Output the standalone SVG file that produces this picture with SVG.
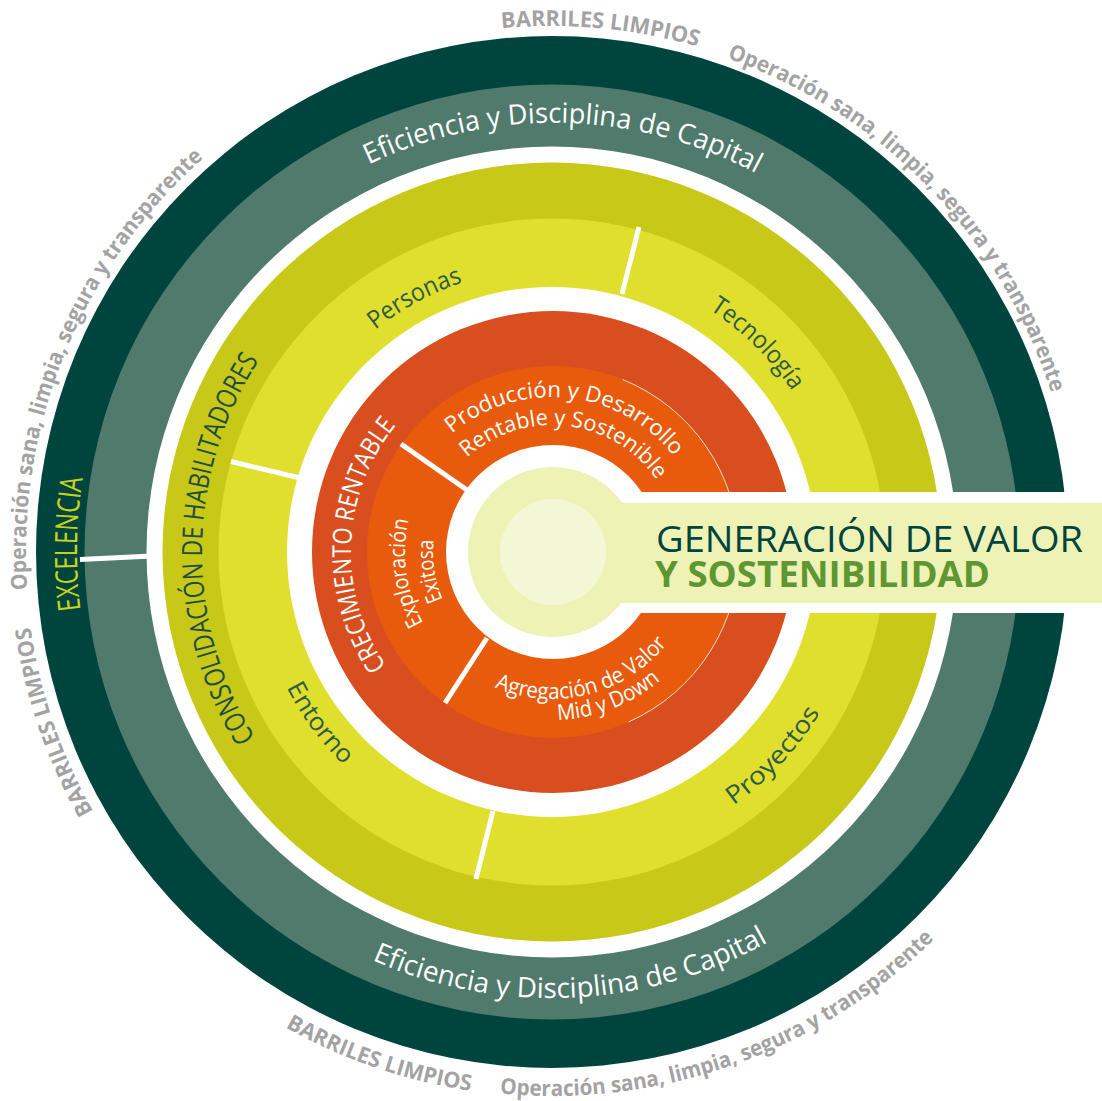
<svg xmlns="http://www.w3.org/2000/svg" xmlns:xlink="http://www.w3.org/1999/xlink" width="1102" height="1101" viewBox="0 0 1102 1101">
<style>
.gray{font-family:"Open Sans","Liberation Sans",sans-serif;font-weight:700;font-size:22px;fill:#a3a3a3}
.eff{font-family:"Open Sans","Liberation Sans",sans-serif;font-size:28px;fill:#ffffff}
.exc{font-family:"Open Sans","Liberation Sans",sans-serif;font-size:31px;fill:#c8d21e}
.hab{font-family:"Open Sans","Liberation Sans",sans-serif;font-size:28px;fill:#1d4d3c}
.ena{font-family:"Open Sans","Liberation Sans",sans-serif;font-size:25px;fill:#2d5a43}
.cre{font-family:"Open Sans","Liberation Sans",sans-serif;font-size:26px;fill:#ffffff}
.core{font-family:"Open Sans","Liberation Sans",sans-serif;font-size:22px;fill:#ffffff}
.div{stroke:#ffffff;stroke-width:5;fill:none}
</style>
<defs>
<path id="t1" d="M501.58,28.42 A526,526 0 0 1 698.75,46.89"/>
<path id="t2" d="M726.92,58.06 A524,524 0 0 1 1051.75,394.43"/>
<path id="t3" d="M27.35,589.61 A526,526 0 0 1 203.46,158.05"/>
<path id="t4" d="M93.32,811.51 A527,527 0 0 1 30.39,627.17"/>
<path id="t5" d="M285.29,1027.28 A545,545 0 0 0 471.44,1091.02"/>
<path id="t6" d="M499.86,1093.5 A544,544 0 0 0 934.65,938.68"/>
<path id="t7" d="M368.6,164.5 A430,430 0 0 1 757.4,174.2"/>
<path id="t8" d="M372.02,960.07 A446,446 0 0 0 769.59,941.32"/>
<path id="t9" d="M80.54,609.89 A475,475 0 0 1 82.72,478.51"/>
<path id="t10" d="M255.18,737.47 A350,350 0 0 1 260.14,358.82"/>
<path id="t11" d="M386.35,665.85 A201,201 0 0 1 396.90,424.15"/>
<path id="t12" d="M451.95,433.61 A155,155 0 0 1 674.64,457.21"/>
<path id="t13" d="M467.02,457.62 A127,127 0 0 1 657.29,480.98"/>
<path id="t14" d="M423.43,623.27 A147,147 0 0 1 408.77,518.93"/>
<path id="t15" d="M442.95,599.64 A119,119 0 0 1 433.65,539.56"/>
<path id="t16" d="M494.56,687.31 A147,147 0 0 0 667.84,642.50"/>
<path id="t17" d="M557.86,719.90 A168,168 0 0 0 661.11,679.75"/>
<path id="t18" d="M375.21,329.74 A284,284 0 0 1 464.24,281.90"/>
<path id="t19" d="M709.40,309.62 A289,289 0 0 1 793.00,392.49"/>
<path id="t20" d="M733.5,805.5 A312,312 0 0 0 822.5,708.5"/>
<path id="t21" d="M286.48,687.29 A298,298 0 0 0 344.99,766.36"/>
</defs>
<rect width="1102" height="1101" fill="#ffffff"/>

<g id="ring-excelencia">
<circle cx="552" cy="552" r="516" fill="#00443e"/>
<text class="exc"><textPath xlink:href="#t9" href="#t9" textLength="132" lengthAdjust="spacingAndGlyphs">EXCELENCIA</textPath></text>
</g>
<g id="ring-eficiencia">
<circle cx="552" cy="552" r="467.5" fill="#4f7a6c"/>
<circle cx="552" cy="552" r="405.5" fill="#ffffff"/>
<text class="eff"><textPath xlink:href="#t7" href="#t7" textLength="402" lengthAdjust="spacingAndGlyphs">Eficiencia y Disciplina de Capital</textPath></text>
<text class="eff"><textPath xlink:href="#t8" href="#t8" textLength="411" lengthAdjust="spacingAndGlyphs">Eficiencia y Disciplina de Capital</textPath></text>
</g>
<g id="ring-habilitadores">
<circle cx="552" cy="552" r="389.5" fill="#c8c819"/>
<text class="hab"><textPath xlink:href="#t10" href="#t10" textLength="398" lengthAdjust="spacingAndGlyphs">CONSOLIDACIÓN DE HABILITADORES</textPath></text>
</g>
<g id="ring-enablers">
<circle cx="552" cy="552" r="333.5" fill="#e0df2e"/>
<circle cx="552" cy="552" r="265" fill="#ffffff"/>
<text class="ena"><textPath xlink:href="#t18" href="#t18" textLength="100" lengthAdjust="spacingAndGlyphs">Personas</textPath></text>
<text class="ena"><textPath xlink:href="#t19" href="#t19" textLength="117" lengthAdjust="spacingAndGlyphs">Tecnología</textPath></text>
<text class="ena"><textPath xlink:href="#t20" href="#t20" textLength="128" lengthAdjust="spacingAndGlyphs">Proyectos</textPath></text>
<text class="ena"><textPath xlink:href="#t21" href="#t21" textLength="97" lengthAdjust="spacingAndGlyphs">Entorno</textPath></text>
</g>
<g id="ring-crecimiento">
<circle cx="553" cy="552" r="241" fill="#d94e1f"/>
<text class="cre"><textPath xlink:href="#t11" href="#t11" textLength="258" lengthAdjust="spacingAndGlyphs">CRECIMIENTO RENTABLE</textPath></text>
</g>
<g id="ring-core">
<circle cx="553" cy="552" r="186" fill="#e95b0c"/>
<path d="M622.68,379.54 A186,186 0 0 1 628.65,721.92" fill="none" stroke="#ffffff" stroke-width="1" stroke-opacity="0.8"/>
<circle cx="553" cy="552" r="107" fill="#ffffff"/>
<text class="core"><textPath xlink:href="#t12" href="#t12" textLength="249" lengthAdjust="spacingAndGlyphs">Producción y Desarrollo</textPath></text>
<text class="core"><textPath xlink:href="#t13" href="#t13" textLength="216" lengthAdjust="spacingAndGlyphs">Rentable y Sostenible</textPath></text>
<text class="core"><textPath xlink:href="#t14" href="#t14" textLength="107" lengthAdjust="spacingAndGlyphs">Exploración</textPath></text>
<text class="core"><textPath xlink:href="#t15" href="#t15" textLength="61" lengthAdjust="spacingAndGlyphs">Exitosa</textPath></text>
<text class="core"><textPath xlink:href="#t16" href="#t16" textLength="191" lengthAdjust="spacingAndGlyphs">Agregación de Valor</textPath></text>
<text class="core"><textPath xlink:href="#t17" href="#t17" textLength="112" lengthAdjust="spacingAndGlyphs">Mid y Down</textPath></text>
</g>
<g id="dividers">
<line class="div" x1="80" y1="559.5" x2="152" y2="556"/>
<line class="div" x1="231" y1="461.5" x2="300" y2="478"/>
<line class="div" x1="639" y1="227" x2="622" y2="294"/>
<line class="div" x1="493" y1="811" x2="476" y2="879"/>
<line class="div" x1="401" y1="444" x2="467" y2="490"/>
<line class="div" x1="487" y1="638" x2="445" y2="703"/>
</g>
<g id="outer-labels">
<text class="gray"><textPath xlink:href="#t1" href="#t1" textLength="198" lengthAdjust="spacingAndGlyphs">BARRILES LIMPIOS</textPath></text>
<text class="gray"><textPath xlink:href="#t2" href="#t2" textLength="483" lengthAdjust="spacingAndGlyphs">Operación sana, limpia, segura y transparente</textPath></text>
<text class="gray"><textPath xlink:href="#t3" href="#t3" textLength="483" lengthAdjust="spacingAndGlyphs">Operación sana, limpia, segura y transparente</textPath></text>
<text class="gray"><textPath xlink:href="#t4" href="#t4" textLength="196" lengthAdjust="spacingAndGlyphs">BARRILES LIMPIOS</textPath></text>
<text class="gray"><textPath xlink:href="#t5" href="#t5" textLength="197" lengthAdjust="spacingAndGlyphs">BARRILES LIMPIOS</textPath></text>
<text class="gray"><textPath xlink:href="#t6" href="#t6" textLength="476" lengthAdjust="spacingAndGlyphs">Operación sana, limpia, segura y transparente</textPath></text>
</g>
<g id="banner">
<rect x="553" y="492" width="549" height="121" fill="#ffffff"/>
<circle cx="553" cy="552" r="85" fill="#eef2b5"/>
<rect x="600" y="503" width="502" height="100" fill="#eef2b5"/>
<circle cx="553" cy="552" r="53" fill="#f4f7d6"/>
<text x="656" y="552" font-family="Open Sans, Liberation Sans, sans-serif" font-size="36" fill="#00443e" textLength="427" lengthAdjust="spacingAndGlyphs">GENERACIÓN DE VALOR</text>
<text x="655" y="587" font-family="Open Sans, Liberation Sans, sans-serif" font-size="36" font-weight="700" fill="#5e9732" textLength="335" lengthAdjust="spacingAndGlyphs">Y SOSTENIBILIDAD</text>
</g>
<g id="connectors"/>
</svg>
